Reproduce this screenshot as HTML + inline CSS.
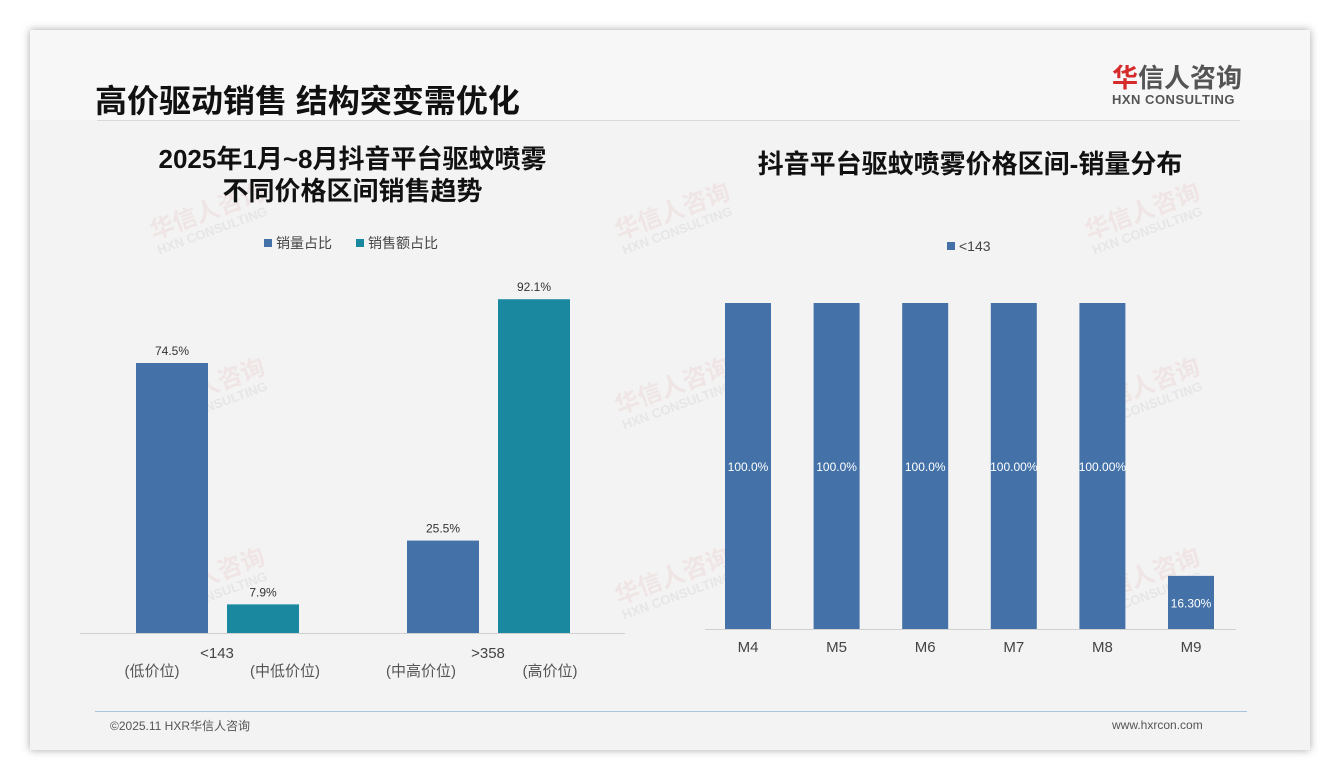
<!DOCTYPE html>
<html><head><meta charset="utf-8">
<style>
body{margin:0;width:1340px;height:780px;background:#fff;font-family:"Liberation Sans","Noto Sans CJK SC",sans-serif;overflow:hidden;position:relative}
.slide{position:absolute;left:30px;top:30px;width:1280px;height:720px;background:#f3f3f3;box-shadow:0 0 8px rgba(0,0,0,.35)}
.abs{position:absolute}
.wm{position:absolute;color:rgba(200,60,60,.08);font-weight:bold;font-size:24px;transform:rotate(-20deg);white-space:nowrap;line-height:1}
.wm small{display:block;font-size:13px;color:rgba(120,120,120,.1)}
</style></head><body>
<div class="slide"></div>
<div class="abs" style="left:30px;top:30px;width:1280px;height:90px;background:#f7f7f7"></div>
<div class="abs" style="left:95px;top:76px;font-size:32px;font-weight:bold;color:#111">高价驱动销售 结构突变需优化</div>
<div class="abs" style="left:1112px;top:64px;text-align:left">
<div style="font-size:26px;font-weight:bold;color:#555;line-height:28px"><span style="color:#d52b2b">华</span>信人咨询</div>
<div style="font-size:13px;font-weight:bold;color:#555;letter-spacing:0.5px">HXN CONSULTING</div></div>
<div class="abs" style="left:97px;top:120px;width:1143px;height:1px;background:#d8d8d8"></div>
<div class="wm" style="left:150px;top:200px">华信人咨询<small>HXN CONSULTING</small></div>
<div class="wm" style="left:615px;top:200px">华信人咨询<small>HXN CONSULTING</small></div>
<div class="wm" style="left:1085px;top:200px">华信人咨询<small>HXN CONSULTING</small></div>
<div class="wm" style="left:150px;top:375px">华信人咨询<small>HXN CONSULTING</small></div>
<div class="wm" style="left:615px;top:375px">华信人咨询<small>HXN CONSULTING</small></div>
<div class="wm" style="left:1085px;top:375px">华信人咨询<small>HXN CONSULTING</small></div>
<div class="wm" style="left:150px;top:565px">华信人咨询<small>HXN CONSULTING</small></div>
<div class="wm" style="left:615px;top:565px">华信人咨询<small>HXN CONSULTING</small></div>
<div class="wm" style="left:1085px;top:565px">华信人咨询<small>HXN CONSULTING</small></div>

<div class="abs" style="left:90px;top:143px;width:525px;text-align:center;font-size:26px;font-weight:bold;color:#111;line-height:32px">2025年1月~8月抖音平台驱蚊喷雾<br>不同价格区间销售趋势</div>
<div class="abs" style="left:700px;top:144px;width:540px;text-align:center;font-size:26px;font-weight:bold;color:#111">抖音平台驱蚊喷雾价格区间-销量分布</div>

<svg id="chart" class="abs" style="left:0;top:0" width="1340" height="780"></svg>

<div class="abs" style="left:95px;top:711px;width:1152px;height:1px;background:#a9c4df"></div>
<div class="abs" style="left:110px;top:717px;font-size:12px;color:#555">©2025.11 HXR华信人咨询</div>
<div class="abs" style="left:1112px;top:718px;font-size:12px;color:#555">www.hxrcon.com</div>

<script>
const leftCats=["<143",">358"];
const leftSub=[["(低价位)","(中低价位)"],["(中高价位)","(高价位)"]];
const volShare=[74.5,25.5];
const amtShare=[7.9,92.1];
const rightCats=["M4","M5","M6","M7","M8","M9"];
const rightVals=[100,100,100,100,100,16.3];
const rightLabels=["100.0%","100.0%","100.0%","100.00%","100.00%","16.30%"];
const NS="http://www.w3.org/2000/svg";
const svg=document.getElementById('chart');
function mk(t,a,txt){const e=document.createElementNS(NS,t);for(const k in a)e.setAttribute(k,a[k]);if(txt!=null)e.textContent=txt;svg.appendChild(e);return e;}
const F='"Liberation Sans","Noto Sans CJK SC",sans-serif';
const lBase=633,lScale=270/74.5;
const ly=v=>lBase-v*lScale;
const groupX=[136,407];
const subX=[[152,285],[421,550]];
let e;
e=mk('line',{x1:80,x2:625,y1:lBase+0.5,y2:lBase+0.5,stroke:'#d0d0d0'});

leftCats.forEach((c,i)=>{
 const x0=groupX[i];
 [[volShare[i],'#4472a8',0],[amtShare[i],'#1a89a0',90]].forEach(([v,col,off],j)=>{
  const r=mk('rect',{x:x0+off+(j?1:0),y:ly(v),width:72,height:v*lScale,fill:col});
  
  
  const t=mk('text',{x:x0+off+(j?1:0)+36,y:ly(v)-8,'text-anchor':'middle','font-size':12,fill:'#333','font-family':F},v.toFixed(1)+'%');
  
  const s=mk('text',{x:subX[i][j],y:676,'text-anchor':'middle','font-size':15,fill:'#555','font-family':F},leftSub[i][j]);
  
 });
 const t=mk('text',{x:x0+81,y:658,'text-anchor':'middle','font-size':15,fill:'#444','font-family':F},c);
 
});
[[264,'#4472a8','销量占比'],[356,'#1a89a0','销售额占比']].forEach(([x,c,l])=>{
 let r=mk('rect',{x:x,y:239,width:8,height:8,fill:c});
 let t=mk('text',{x:x+12,y:248,'font-size':14,fill:'#444','font-family':F},l);
});
const rBase=629,rScale=326/100;
const ry=v=>rBase-v*rScale;
const rx=i=>748+i*88.6;
e=mk('line',{x1:705,x2:1236,y1:rBase+0.5,y2:rBase+0.5,stroke:'#d0d0d0'});

rightCats.forEach((c,i)=>{
 const v=rightVals[i];
 const r=mk('rect',{x:rx(i)-23,y:ry(v),width:46,height:v*rScale,fill:'#4472a8'});
 
 const t=mk('text',{x:rx(i),y:ry(v/2)+5,'text-anchor':'middle','font-size':12,fill:'#fff','font-family':F},rightLabels[i]);
 
 const l=mk('text',{x:rx(i),y:652,'text-anchor':'middle','font-size':15,fill:'#444','font-family':F},c);
 
});
e=mk('rect',{x:947,y:242,width:8,height:8,fill:'#4472a8'});
e=mk('text',{x:959,y:251,'font-size':14,fill:'#444','font-family':F},'<143');
</script>
</body></html>
